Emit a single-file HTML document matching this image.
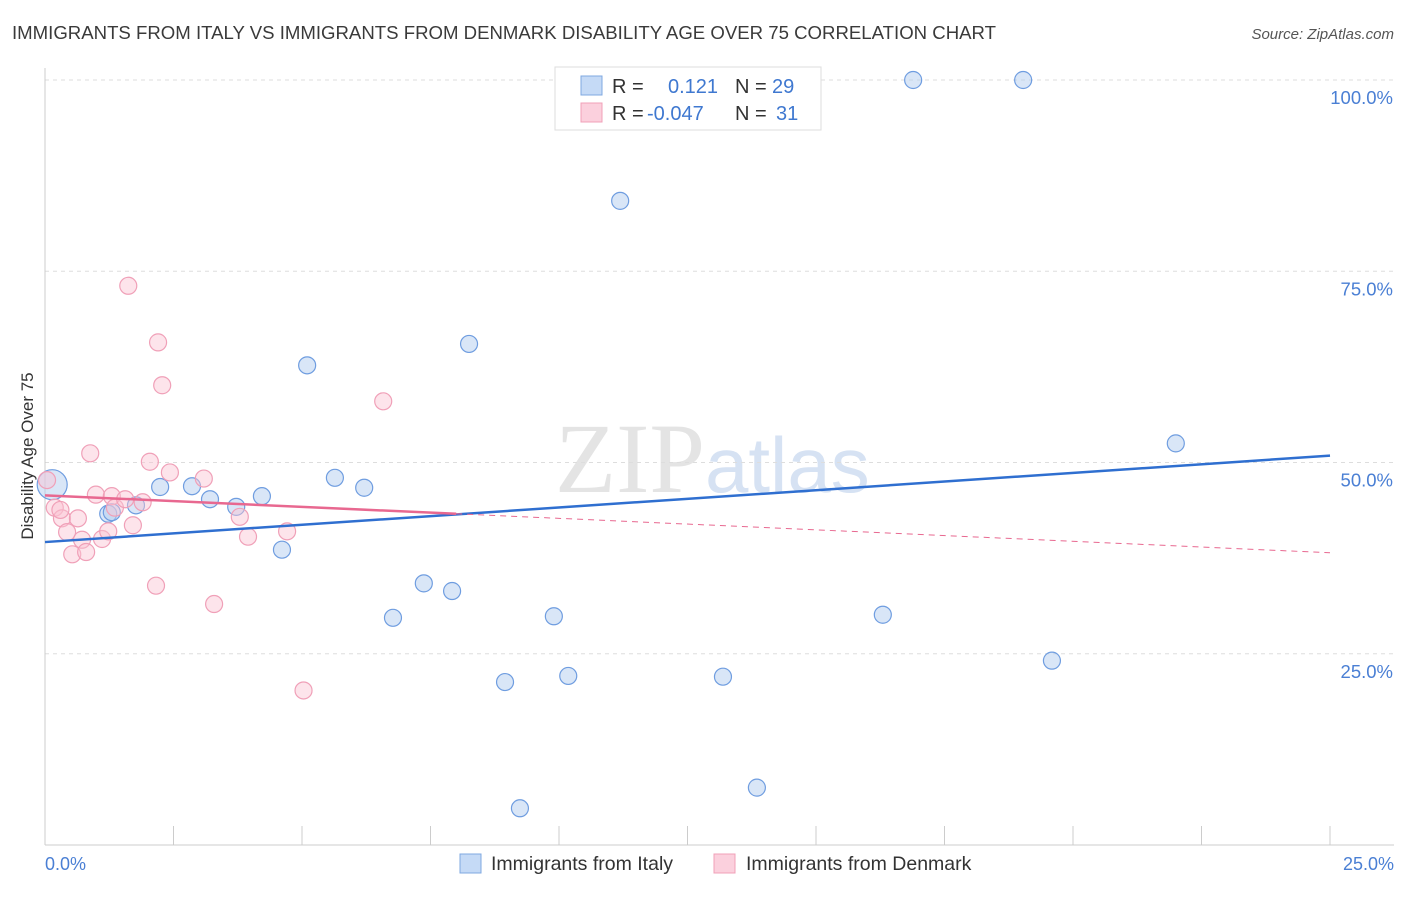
<!DOCTYPE html>
<html><head><meta charset="utf-8"><style>
body{margin:0;background:#fff;font-family:"Liberation Sans",sans-serif}
</style></head><body>
<svg width="1406" height="892" xmlns="http://www.w3.org/2000/svg" id="svg">
<text x="12" y="39" font-size="18" fill="#3a3a3a" textLength="984" lengthAdjust="spacingAndGlyphs">IMMIGRANTS FROM ITALY VS IMMIGRANTS FROM DENMARK DISABILITY AGE OVER 75 CORRELATION CHART</text>
<text x="1394" y="39" font-size="15" fill="#555" font-style="italic" text-anchor="end">Source: ZipAtlas.com</text>
<text x="555" y="492" font-size="100" fill="#e4e4e4" font-family="Liberation Serif">ZIP<tspan fill="#d6e2f3" font-family="Liberation Sans" font-size="78">atlas</tspan></text>
<g id="grid"></g>
<line x1="45" y1="68" x2="45" y2="845" stroke="#ccc"/>
<line x1="45" y1="845" x2="1394" y2="845" stroke="#ccc"/>
<g id="ticks"></g>
<text transform="translate(33,456) rotate(-90)" font-size="17" fill="#333" text-anchor="middle">Disability Age Over 75</text>
<text x="45" y="870" font-size="18" fill="#4a7fd4">0.0%</text>
<text x="1394" y="870" font-size="18" fill="#4a7fd4" text-anchor="end">25.0%</text>
<g id="pts"></g>
<g id="lines"></g>
<g>
<rect x="555" y="67" width="266" height="63" fill="#fff" stroke="#ddd"/>
<rect x="581" y="76" width="21" height="19" fill="#c5daf6" stroke="#7fa8e0"/>
<rect x="581" y="103" width="21" height="19" fill="#fbd0dd" stroke="#f0a0b8"/>
<text x="612" y="93" font-size="20" fill="#333">R = <tspan x="668" fill="#3f78d0">0.121</tspan><tspan x="735">N = </tspan><tspan x="772" fill="#3f78d0">29</tspan></text>
<text x="612" y="120" font-size="20" fill="#333">R = <tspan x="647" fill="#3f78d0">-0.047</tspan><tspan x="735">N = </tspan><tspan x="776" fill="#3f78d0">31</tspan></text>
</g>
<g>
<rect x="460" y="854" width="21" height="19" fill="#c5daf6" stroke="#7fa8e0"/>
<text x="491" y="870" font-size="19.5" fill="#333">Immigrants from Italy</text>
<rect x="714" y="854" width="21" height="19" fill="#fbd0dd" stroke="#f0a0b8"/>
<text x="746" y="870" font-size="19.5" fill="#333">Immigrants from Denmark</text>
</g>
</svg>
<script>
const yTicks=[25,50,75,100];
const yTickLabels=["25.0%","50.0%","75.0%","100.0%"];
const xTicks=[0,2.5,5,7.5,10,12.5,15,17.5,20,22.5,25];
const italyX=[0.14,1.23,1.77,2.24,2.86,3.21,3.72,4.22,4.61,5.10,5.64,6.21,6.77,7.37,7.92,8.25,8.95,9.24,9.90,10.18,11.19,13.19,13.85,16.30,16.89,19.03,19.59,22.00,1.3];
const italyY=[47.1,43.3,44.4,46.8,46.9,45.2,44.2,45.6,38.6,62.7,48.0,46.7,29.7,34.2,33.2,65.5,21.3,4.8,29.9,22.1,84.2,22.0,7.5,30.1,100,100,24.1,52.5,43.5];
const denX=[0.04,0.19,0.33,0.43,0.53,0.64,0.72,0.80,0.88,0.99,1.11,1.23,1.30,1.36,1.56,1.62,1.71,2.04,2.16,2.20,2.28,2.43,3.09,3.29,3.79,3.95,4.71,5.03,6.58,0.3,1.9];
const denY=[47.7,44.1,42.7,40.9,38.0,42.7,39.9,38.3,51.2,45.8,40.0,41.0,45.6,44.1,45.2,73.1,41.8,50.1,33.9,65.7,60.1,48.7,47.9,31.5,42.9,40.3,41.0,20.2,58.0,43.8,44.8];
const italyTrend=[39.6,50.9];
const denTrend=[45.7,38.2];
const X=v=>45+v/25*1285, Y=v=>845-v/100*765;
const NS="http://www.w3.org/2000/svg";
function mk(t,a,p){const e=document.createElementNS(NS,t);for(const k in a)e.setAttribute(k,a[k]);document.getElementById(p).appendChild(e);return e;}
yTicks.forEach((t,i)=>{
 const l=mk('line',{x1:45,x2:1394,y1:Y(t),y2:Y(t),stroke:'#ddd','stroke-dasharray':'4,4'},'grid');
 
 
 const tx=mk('text',{x:1393,y:Y(t)+24,'font-size':18.5,fill:'#4a7fd4','text-anchor':'end'},'grid');
 tx.textContent=yTickLabels[i];
 
 
});
xTicks.forEach(t=>{
 const l=mk('line',{x1:X(t),x2:X(t),y1:826,y2:845,stroke:'#ccc'},'ticks');
 
 
});
italyX.forEach((x,i)=>{
 const c=mk('circle',{cx:X(x),cy:Y(italyY[i]),r:i==0?15:8.5,fill:'rgba(180,205,240,0.5)',stroke:'#6f9de0','stroke-width':1.2},'pts');
 
 
});
denX.forEach((x,i)=>{
 const c=mk('circle',{cx:X(x),cy:Y(denY[i]),r:8.5,fill:'rgba(250,195,210,0.45)',stroke:'#f0a0b8','stroke-width':1.2},'pts');
 
 
});
let l=mk('line',{x1:X(0),y1:Y(italyTrend[0]),x2:X(25),y2:Y(italyTrend[1]),stroke:'#2f6fd0','stroke-width':2.5},'lines');


const dm=v=>denTrend[0]+(denTrend[1]-denTrend[0])*v/25;
l=mk('line',{x1:X(0),y1:Y(dm(0)),x2:X(8),y2:Y(dm(8)),stroke:'#e86890','stroke-width':2.5},'lines');


l=mk('line',{x1:X(8),y1:Y(dm(8)),x2:X(25),y2:Y(dm(25)),stroke:'#e86890','stroke-width':1,'stroke-dasharray':'6,5'},'lines');


</script>
</body></html>
